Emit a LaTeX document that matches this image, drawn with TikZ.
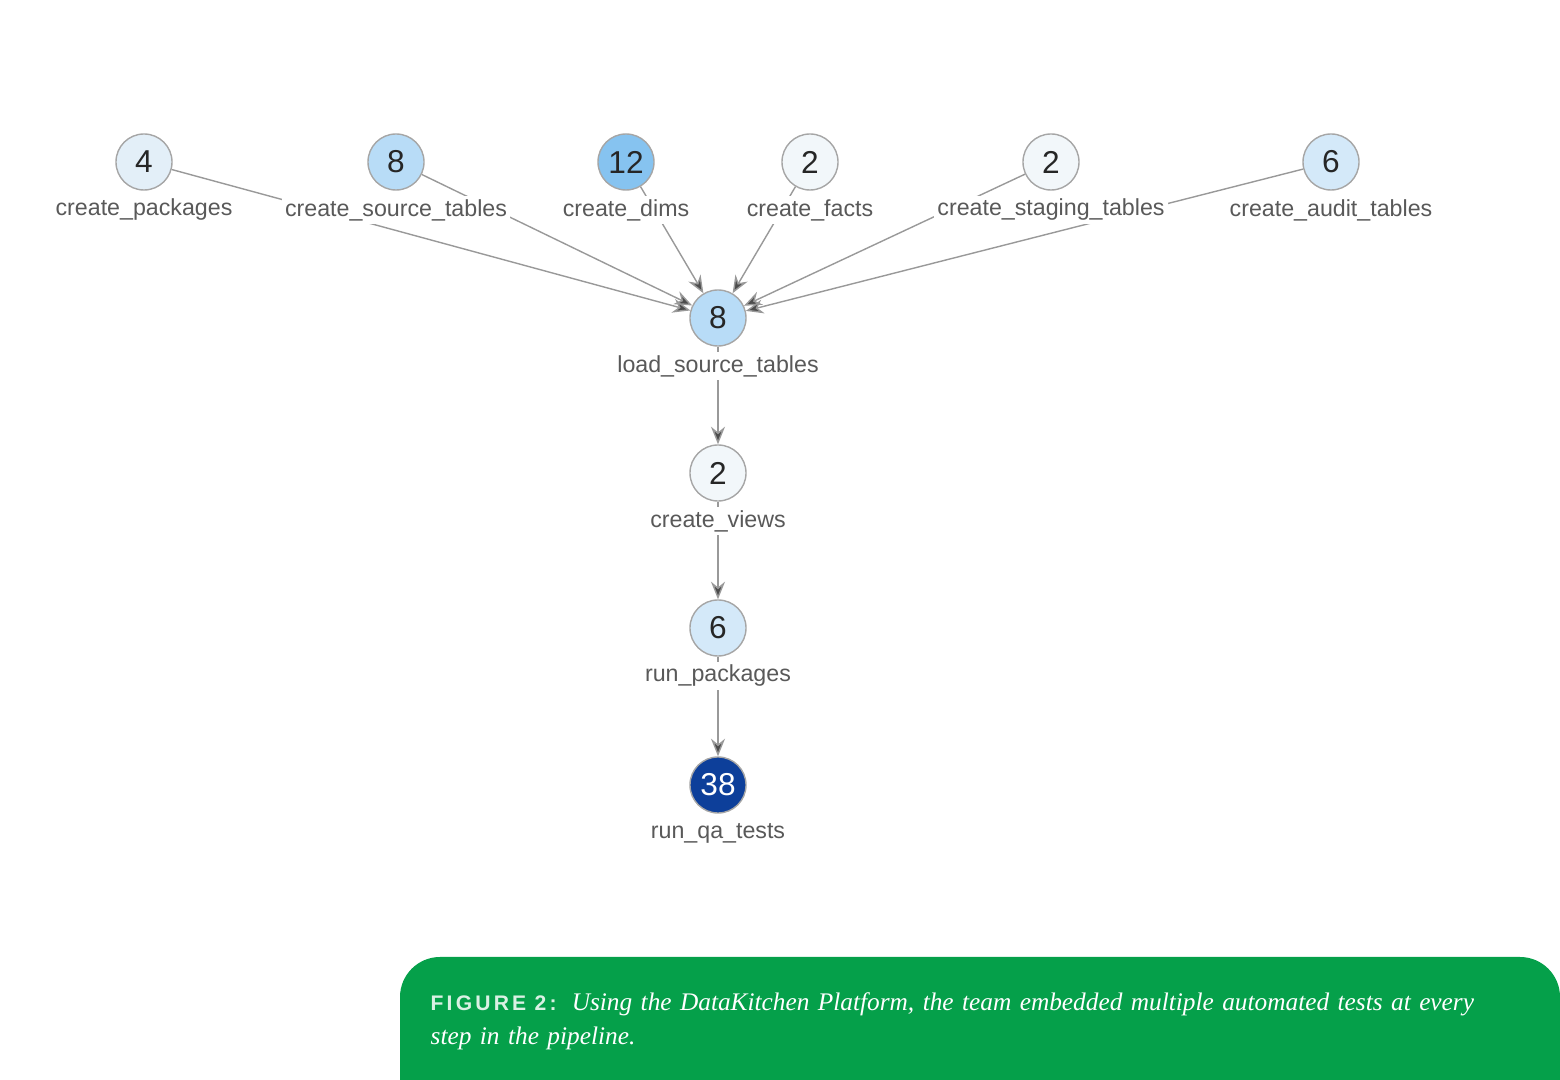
\documentclass[tikz,border=0pt]{standalone}
\usepackage{fontspec}
\setmainfont{Liberation Serif}
\setsansfont{Liberation Sans}
\usetikzlibrary{positioning,arrows.meta}
\definecolor{stepA}{HTML}{E3EFF8}
\definecolor{stepB}{HTML}{B8DCF7}
\definecolor{stepC}{HTML}{86C3F0}
\definecolor{stepD}{HTML}{F2F7FA}
\definecolor{stepE}{HTML}{D4E9F9}
\definecolor{stepF}{HTML}{0D3F9A}
\definecolor{capgreen}{HTML}{05A04A}
\tikzset{
    task/.style={circle, draw=black!35, line width=0.4pt, minimum size=0.56cm, inner sep=0pt,
        font=\sffamily\fontsize{9}{9}\selectfont, text=black!85},
    tag/.style={fill=white, inner sep=1pt, font=\sffamily\fontsize{6.6}{7}\selectfont, text=black!65},
    link/.style={draw=black!40, line width=0.4pt, -{Stealth[length=5pt,width=4pt,fill=black!70]}}
}
\begin{document}
\begin{tikzpicture}[x=0.01cm, y=-0.01cm]
        \useasboundingbox (0, 0) rectangle (1560, 1080);

        % top row
        \node[task, fill=stepA] (pkg) at (144, 162) {4};
        \node[task, fill=stepB] (src) at (396, 162) {8};
        \node[task, fill=stepC] (dims) at (626, 162) {12};
        \node[task, fill=stepD] (facts) at (810, 162) {2};
        \node[task, fill=stepD] (stage) at (1051, 162) {2};
        \node[task, fill=stepE] (audit) at (1331, 162) {6};

        % chain
        \node[task, fill=stepB] (load) at (718, 318) {8};
        \node[task, fill=stepD] (views) at (718, 473) {2};
        \node[task, fill=stepE] (runpkg) at (718, 628) {6};
        \node[task, fill=stepF, text=white] (qa) at (718, 785) {38};

        % edges
        \draw[link] (pkg) -- (load);
        \draw[link] (src) -- (load);
        \draw[link] (dims) -- (load);
        \draw[link] (facts) -- (load);
        \draw[link] (stage) -- (load);
        \draw[link] (audit) -- (load);
        \draw[link] (load) -- (views);
        \draw[link] (views) -- (runpkg);
        \draw[link] (runpkg) -- (qa);

        % labels
        \node[tag] (pkgl) at (144, 210) {create\_packages};
        \node[tag] (srcl) at (396, 210) {create\_source\_tables};
        \node[tag] (dimsl) at (626, 210) {create\_dims};
        \node[tag] (factsl) at (810, 210) {create\_facts};
        \node[tag] (stagel) at (1051, 210) {create\_staging\_tables};
        \node[tag] (auditl) at (1331, 210) {create\_audit\_tables};
        \node[tag] (loadl) at (718, 366) {load\_source\_tables};
        \node[tag] (viewsl) at (718, 521) {create\_views};
        \node[tag] (runpkgl) at (718, 676) {run\_packages};
        \node[tag] (qal) at (718, 833) {run\_qa\_tests};

        % caption
        \fill[capgreen, rounded corners=0.4cm] (400, 1120) -- (400, 957) -- (1560, 957) -- (1560, 1120);
        \fill[capgreen] (400, 1010) rectangle (1560, 1080);
        \node[anchor=north west, text width=10.8cm, align=left, inner sep=0pt, text=white,
            font=\fontsize{7.2}{9.6}\selectfont] (cap) at (430, 992)
            {{\sffamily\bfseries\color{white!85!capgreen}\addfontfeature{LetterSpace=15}\fontsize{6}{9.6}\selectfont FIGURE 2:}\hspace{0.6em}\itshape Using the DataKitchen Platform, the team embedded multiple automated tests at every step in the pipeline.};
    \end{tikzpicture}
\end{document}
